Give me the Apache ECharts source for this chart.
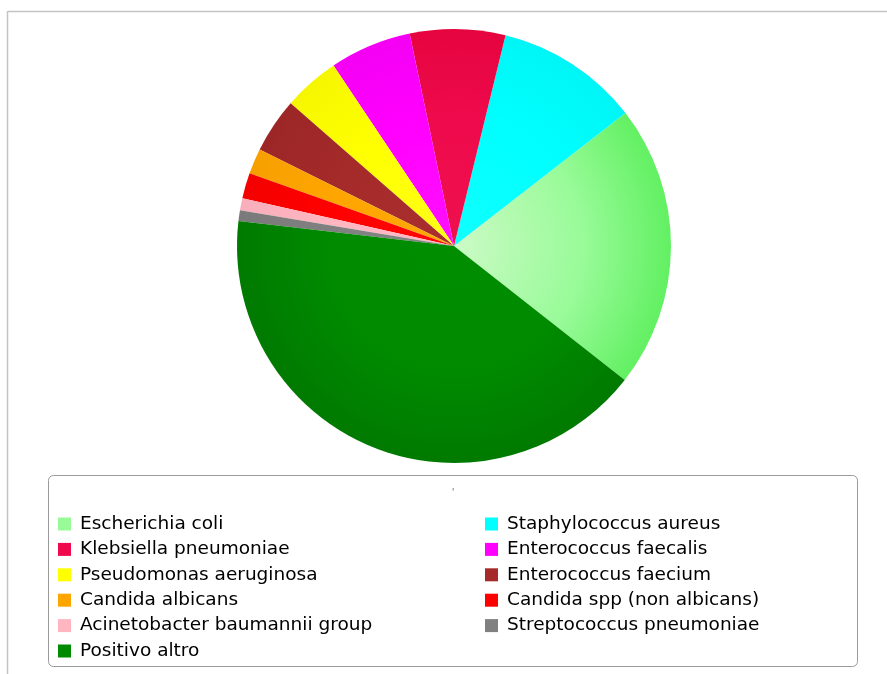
<!DOCTYPE html>
<html>
<head>
<meta charset="utf-8">
<script src="https://cdn.jsdelivr.net/npm/echarts@6/dist/echarts.min.js"></script>
<style>
  html, body { margin: 0; padding: 0; background: #fff; }
  #chart { width: 887px; height: 674px; }
</style>
</head>
<body>
<div id="chart"></div>
<script>
// Organism names, in legend order
const categories = [
  'Escherichia coli',
  'Staphylococcus aureus',
  'Klebsiella pneumoniae',
  'Enterococcus faecalis',
  'Pseudomonas aeruginosa',
  'Enterococcus faecium',
  'Candida albicans',
  'Candida spp (non albicans)',
  'Acinetobacter baumannii group',
  'Streptococcus pneumoniae',
  'Positivo altro'
];
// Share of isolates (%)
const values = [21.1, 10.7, 7.1, 6.1, 4.2, 4.1, 1.9, 1.9, 0.9, 0.8, 41.3];

// Flat colours (legend swatches) and shaded centre / rim colours for the slices
const baseColors = ['#98fb98', '#00ffff', '#ee0a4c', '#ff00ff', '#ffff00', '#a52a2a',
                    '#ffa500', '#ff0000', '#ffb6c1', '#808080', '#008a00'];
const innerColors = ['#ccfac6', '#10ffff', '#f0104e', '#ff10ff', '#ffff18', '#aa2e2e',
                     '#ffa808', '#ff0808', '#ffbac6', '#858585', '#008e00'];
const rimColors = ['#62f062', '#00f6f6', '#e6043f', '#f400f4', '#f6f600', '#9c2626',
                   '#f6a000', '#f40000', '#f8aebb', '#7a7a7a', '#007a00'];

const cx = 454, cy = 246, R = 217;

const pieData = categories.map((name, i) => ({
  name: name,
  value: values[i],
  itemStyle: {
    color: {
      type: 'radial', x: cx, y: cy, r: R, global: true,
      colorStops: [
        { offset: 0, color: innerColors[i] },
        { offset: 0.6, color: baseColors[i] },
        { offset: 1, color: rimColors[i] }
      ]
    }
  }
}));

const legendItem = i => ({ name: categories[i], itemStyle: { color: baseColors[i] } });
const leftCol = [0, 2, 4, 6, 8, 10].map(legendItem);
const rightCol = [1, 3, 5, 7, 9].map(legendItem);

const legendCommon = {
  orient: 'vertical',
  top: 514.5,
  height: 170,
  padding: 0,
  itemWidth: 13,
  itemHeight: 13,
  itemGap: 6.4,
  icon: 'rect',
  selectedMode: false,
  textStyle: {
    fontFamily: 'DejaVu Sans',
    fontSize: 18.5,
    color: '#000',
    padding: [0, 0, 0, 4]
  }
};

const chart = echarts.init(document.getElementById('chart'), null, { renderer: 'canvas' });
chart.setOption({
  animation: false,
  backgroundColor: '#ffffff',
  legend: [
    Object.assign({}, legendCommon, { left: 58, data: leftCol }),
    Object.assign({}, legendCommon, { left: 485, data: rightCol })
  ],
  graphic: [
    { type: 'line', shape: { x1: 8, y1: 11.5, x2: 887, y2: 11.5 },
      style: { stroke: '#c4c4c4', lineWidth: 1.5 }, silent: true },
    { type: 'line', shape: { x1: 7.5, y1: 11, x2: 7.5, y2: 674 },
      style: { stroke: '#c4c4c4', lineWidth: 1.5 }, silent: true },
    { type: 'rect', shape: { x: 48.5, y: 475.5, width: 809, height: 191, r: 5 },
      style: { fill: 'none', stroke: '#9a9a9a', lineWidth: 1 }, silent: true, z: -1 },
    { type: 'text', x: 452, y: 489,
      style: { text: "'", fontSize: 8, fontFamily: 'DejaVu Sans', fill: '#444' }, silent: true }
  ],
  series: [{
    type: 'pie',
    center: [cx, cy],
    radius: R,
    startAngle: -38.1,
    clockwise: false,
    avoidLabelOverlap: false,
    label: { show: false },
    labelLine: { show: false },
    emphasis: { disabled: true },
    itemStyle: { borderWidth: 0 },
    data: pieData
  }]
});
</script>
</body>
</html>
